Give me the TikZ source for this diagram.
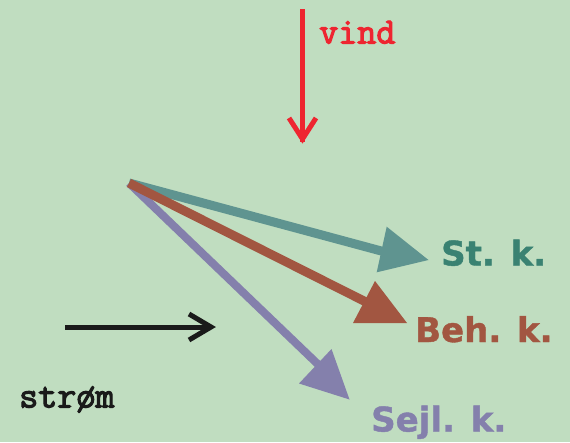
\documentclass[tikz,border=0pt]{standalone}
\usepackage{fontspec}
\newfontfamily\labfont[FakeBold=1.2]{DejaVu Sans Bold}
\newfontfamily\typefont[FakeBold=3]{Latin Modern Mono}
\definecolor{bg}{HTML}{C0DDC0}
\definecolor{windred}{HTML}{EE2530}
\definecolor{tealline}{HTML}{5F9490}
\definecolor{tealtext}{HTML}{3A8272}
\definecolor{brownc}{HTML}{A25641}
\definecolor{purplec}{HTML}{8480AC}
\definecolor{blackc}{HTML}{1A1A1A}
\tikzset{
  vec/.style={line width=9pt},
  chevron/.style={line width=5pt, miter limit=10},
  biglabel/.style={font=\labfont\fontsize{34}{34}\selectfont, inner sep=0pt, anchor=base west},
  typelabel/.style={font=\typefont\fontsize{37}{37}\selectfont, inner sep=0pt, anchor=base west}
}
\begin{document}
\begin{tikzpicture}[x=1pt,y=-1pt]
\fill[bg] (0,0) rectangle (570,442);
\useasboundingbox (0,0) rectangle (570,442);
% wind arrow
\coordinate (w0) at (302.5,9);
\coordinate (w1) at (302.5,139);
\coordinate (wa) at (289,118);
\coordinate (wb) at (316,118);
\draw[windred, line width=5pt] (w0) -- ([yshift=-3pt]w1);
\draw[windred, chevron] (wa) -- (w1) -- (wb);
\node[typelabel, text=windred] (vind) at (319,43.5) {vind};
% current arrow
\coordinate (c0) at (65,327);
\coordinate (c1) at (211,327);
\coordinate (ca) at (189,314);
\coordinate (cb) at (189,340);
\draw[blackc, line width=5pt] (c0) -- ([xshift=-3pt]c1);
\draw[blackc, chevron] (ca) -- (c1) -- (cb);
\node[typelabel, text=blackc] (strom) at (19,407.5) {strøm};
% origin
\coordinate (o) at (129,183);
% sejl. k.
\coordinate (pe) at (326,372);
\draw[purplec, line width=8pt] (o) -- (pe);
\fill[purplec] (331.5,349) -- (349.5,399.5) -- (299,383.5) -- cycle;
% st. k.
\coordinate (te) at (385,252);
\draw[tealline, vec] (o) -- (te);
\fill[tealline] (386.7,226.7) -- (428.5,260) -- (376.7,272.3) -- cycle;
% beh. k.
\coordinate (be) at (370,304);
\draw[brownc, vec] (o) -- (be);
\fill[brownc] (375,281) -- (407,323) -- (353,323) -- cycle;
% labels
\node[biglabel, text=tealtext] (st) at (441,265.5) {St. k.};
\node[biglabel, text=brownc] (beh) at (415,342) {Beh. k.};
\node[biglabel, text=purplec] (sejl) at (371,431.5) {Sejl. k.};
\end{tikzpicture}
\end{document}
